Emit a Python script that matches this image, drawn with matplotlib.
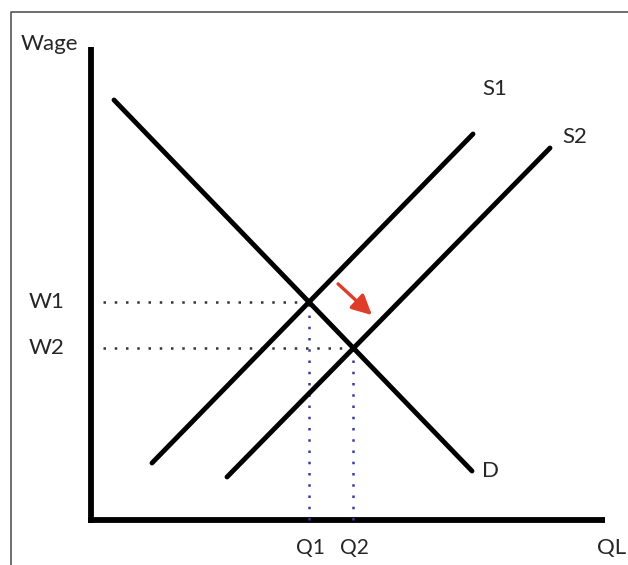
import matplotlib
matplotlib.use("Agg")
import matplotlib.pyplot as plt
from matplotlib.patches import FancyArrowPatch
import numpy as np

plt.rcParams['font.family'] = ['Lato', 'DejaVu Sans']

# Curve endpoints (quantity, wage) in chart units
demand_q = [23, 381]
demand_w = [420, 49]
s1_q = [61, 382]
s1_w = [57, 386]
s2_q = [136, 459]
s2_w = [43, 372]
shift_arrow_q = [245, 283]
shift_arrow_w = [238, 203]

curve_labels = ["S1", "S2", "D"]
label_q = [404, 484, 399]
label_w = [431, 383, 49]
wage_labels = ["W1", "W2"]
qty_labels = ["Q1", "Q2"]


def intersect(aq, aw, bq, bw):
    m1 = (aw[1] - aw[0]) / (aq[1] - aq[0])
    m2 = (bw[1] - bw[0]) / (bq[1] - bq[0])
    q = (bw[0] - aw[0] + m1 * aq[0] - m2 * bq[0]) / (m1 - m2)
    return q, aw[0] + m1 * (q - aq[0])


e1 = intersect(demand_q, demand_w, s1_q, s1_w)
e2 = intersect(demand_q, demand_w, s2_q, s2_w)

fig = plt.figure(figsize=(6.28, 5.65), dpi=100)
ax = fig.add_axes([0, 0, 1, 1])
ax.set_xlim(-91, 537)
ax.set_ylim(-45, 520)
ax.axis('off')

txt = '#262626'

# frame
ax.plot([-80, -80, 560], [-60, 508, 508], color='#555555', lw=1.2, solid_capstyle='butt')

# axes
ax.plot([0, 0], [-3, 473], color='black', lw=4.2, solid_capstyle='butt')
ax.plot([-3, 514], [0, 0], color='black', lw=4.2, solid_capstyle='butt')

# dotted guides
for (q, w), wl, ql in zip([e1, e2], wage_labels, qty_labels):
    ax.plot([12, q], [w, w], color='#333344', lw=1.8, linestyle=(0, (1, 3.5)))
    ax.plot([q, q], [0, w], color='#3a3aa0', lw=1.8, linestyle=(0, (1, 3.5)))
    ax.text(-44, w, wl, ha='center', va='center', fontsize=16, color=txt)
    ax.text(q + 1, -28, ql, ha='center', va='center', fontsize=15, color=txt)

# curves
for qq, ww in [(demand_q, demand_w), (s1_q, s1_w), (s2_q, s2_w)]:
    ax.plot(qq, ww, color='black', lw=3.5, solid_capstyle='round')

for t, q, w in zip(curve_labels, label_q, label_w):
    ax.text(q, w, t, ha='center', va='center', fontsize=16, color=txt)

ax.text(-42, 476, "Wage", ha='center', va='center', fontsize=16, color=txt)
ax.text(521, -28, "QL", ha='center', va='center', fontsize=16, color=txt)

arr = FancyArrowPatch((shift_arrow_q[0], shift_arrow_w[0]), (shift_arrow_q[1], shift_arrow_w[1]),
                      arrowstyle='-|>,head_length=12,head_width=6', color='#e03c2a', lw=2.4,
                      mutation_scale=1)
ax.add_patch(arr)

fig.savefig("out.png", dpi=100)
